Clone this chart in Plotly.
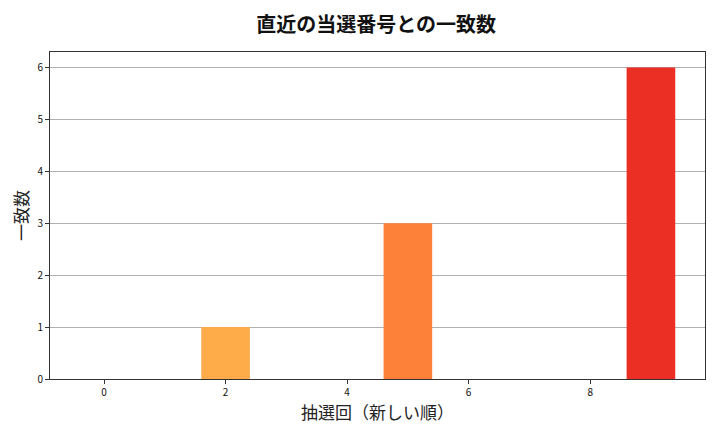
import plotly.graph_objects as go

# 抽選回のインデックス (新しい順) と一致数
draw_index = [0, 1, 2, 3, 4, 5, 6, 7, 8, 9]
match_counts = [0, 0, 1, 0, 0, 3, 0, 0, 0, 6]
bar_colors = ["#FFEDA0", "#FFE38A", "#FEAC4A", "#FE9D43", "#FD8E3C",
              "#FD8139", "#FC6B30", "#F5502A", "#EE3A25", "#EB2F24"]

font_jp = "Noto Sans CJK JP"

fig = go.Figure()
fig.add_trace(go.Bar(x=draw_index, y=match_counts, width=0.8,
                     marker=dict(color=bar_colors, line=dict(width=0))))

# the page body has an 8px margin, so the figure is a bit smaller than the window
fig.update_layout(
    width=712, height=424,
    margin=dict(l=40, r=15, t=44, b=53),
    paper_bgcolor="white", plot_bgcolor="white",
    font=dict(family=font_jp, color="#222222"),
    showlegend=False,
    title=dict(text="<b>直近の当選番号との一致数</b>", x=0.517, xanchor="center",
               y=0.96, yanchor="middle", font=dict(size=20, family=font_jp, color="#111111")),
    xaxis=dict(range=[-0.89, 9.89], tickvals=[0, 2, 4, 6, 8], ticks="outside", ticklen=4,
               tickcolor="#333333", tickfont=dict(size=10, color="#111111"), showgrid=False,
               zeroline=False, showline=True, linecolor="#333333", linewidth=1, mirror=True,
               title=dict(text="抽選回（新しい順）", font=dict(size=17), standoff=2)),
    yaxis=dict(range=[0, 6.3], tickvals=[0, 1, 2, 3, 4, 5, 6], ticks="outside", ticklen=4,
               tickcolor="#333333", tickfont=dict(size=10, color="#111111"), showgrid=True,
               gridcolor="#b0b0b0", gridwidth=1, zeroline=False, showline=True,
               linecolor="#333333", linewidth=1, mirror=True, layer="above traces",
               title=dict(text="一致数", font=dict(size=17), standoff=6)),
)

fig.write_html("out.html")
